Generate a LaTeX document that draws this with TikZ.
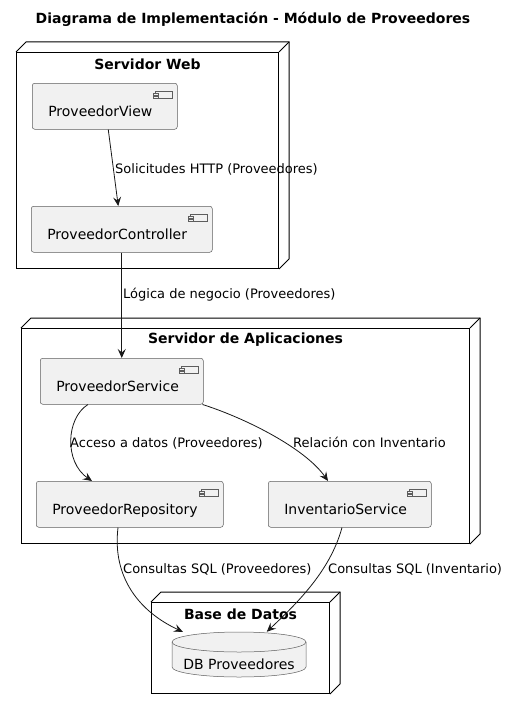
\documentclass[tikz,border=0pt]{standalone}
\usepackage{fontspec}
\setmainfont{DejaVu Sans}
\usetikzlibrary{arrows.meta}
\definecolor{compfill}{HTML}{F1F1F1}
\definecolor{compline}{HTML}{181818}

\tikzset{
	comp/.style={draw=compline!70, line width=0.5pt, fill=compfill, rounded corners=2.5pt,
		anchor=north west, inner xsep=16pt, inner ysep=0pt, align=left,
		minimum height=46pt, text height=21pt, text depth=1pt,
		font=\fontsize{14}{16}\selectfont,
		path picture={
			\draw[compline!70, line width=0.5pt, sharp corners] ([shift={(-22pt,-8pt)}]path picture bounding box.north east) rectangle ++(17pt,-7pt);
			\filldraw[draw=compline!70, fill=compfill, line width=0.5pt, sharp corners] ([shift={(-24pt,-9.5pt)}]path picture bounding box.north east) rectangle ++(4.5pt,-2pt);
			\filldraw[draw=compline!70, fill=compfill, line width=0.5pt, sharp corners] ([shift={(-24pt,-12.5pt)}]path picture bounding box.north east) rectangle ++(4.5pt,-2pt);
		}},
	box3d/.style={draw, line width=1pt, anchor=north west, inner sep=0pt},
	ttl/.style={font=\bfseries\fontsize{14}{16}\selectfont},
	lbl/.style={font=\fontsize{13}{15}\selectfont, anchor=base west, inner sep=0pt},
	link/.style={-{Stealth[length=9pt,width=8pt,inset=3.5pt]}, line width=0.8pt, draw=compline},
}
\newcommand{\nodeback}[1]{\draw[line width=1pt] (#1.north west) -- ++(10,-10) -| ([shift={(10pt,10pt)}]#1.south east) -- (#1.south east); \draw[line width=1pt] (#1.north east) -- ++(10,-10);}

\begin{document}
\begin{tikzpicture}[x=1pt, y=-1pt]
	\useasboundingbox (0,0) rectangle (507,709);
	\node[ttl, anchor=base] (title) at (253,24) {Diagrama de Implementación - Módulo de Proveedores};

	\node[box3d, minimum width=262, minimum height=216] (web) at (16,52) {};
	\nodeback{web}
	\node[ttl] (webt) at ([yshift=-12pt]web.north) {Servidor Web};
	\node[comp, text width=113pt] (pv) at (32,83) {ProveedorView};
	\node[comp, text width=149pt] (pc) at (31,206) {ProveedorController};

	\node[box3d, minimum width=448, minimum height=215] (app) at (21,328) {};
	\nodeback{app}
	\node[ttl] (appt) at ([yshift=-12pt]app.north) {Servidor de Aplicaciones};
	\node[comp, text width=131pt] (ps) at (40,358) {ProveedorService};
	\node[comp, text width=155pt] (pr) at (36,481) {ProveedorRepository};
	\node[comp, text width=131pt] (is) at (268,481) {InventarioService};

	\node[box3d, minimum width=178, minimum height=91] (dbn) at (151,602) {};
	\nodeback{dbn}
	\node[ttl] (dbt) at ([yshift=-12pt]dbn.north) {Base de Datos};
	\node[minimum width=136, minimum height=47, inner sep=0pt, text height=30pt, text depth=1pt,
		font=\fontsize{14}{16}\selectfont,
		path picture={
			\filldraw[draw=compline!70, fill=compfill, line width=0.5pt] ([shift={(1pt,-11pt)}]path picture bounding box.north west) -- ++(0pt,-25pt) arc[start angle=180, end angle=360, x radius=67pt, y radius=10pt] -- ++(0pt,25pt) arc[start angle=0, end angle=180, x radius=67pt, y radius=10pt] -- cycle;
			\draw[compline!70, line width=0.5pt] ([shift={(1pt,-11pt)}]path picture bounding box.north west) arc[start angle=180, end angle=360, x radius=67pt, y radius=10pt];
		}] (dbs) at (239,654.5) {DB Proveedores};

	\draw[link] ([xshift=3.5pt]pv.south) -- ([xshift=-3.5pt]pc.north);
	\draw[link] (pc.south) -- (ps.north);
	\draw[link] ([xshift=48pt]ps.south west) .. controls (66,418) and (64,462) .. ([xshift=56pt]pr.north west);
	\draw[link] ([xshift=-1pt]ps.south east) .. controls (245,418) and (305,448) .. ([xshift=60pt]is.north west);
	\draw[link] ([xshift=82pt]pr.south west) .. controls (112,578) and (140,612) .. ([shift={(12pt,-1pt)}]dbs.north west);
	\draw[link] ([xshift=74pt]is.south west) .. controls (330,572) and (295,605) .. ([shift={(96pt,-1pt)}]dbs.north west);

	\node[lbl] (l1) at (115,173) {Solicitudes HTTP (Proveedores)};
	\node[lbl] (l2) at (123,298) {Lógica de negocio (Proveedores)};
	\node[lbl] (l3) at (70,447) {Acceso a datos (Proveedores)};
	\node[lbl] (l4) at (293,447) {Relación con Inventario};
	\node[lbl] (l5) at (123,573) {Consultas SQL (Proveedores)};
	\node[lbl] (l6) at (328,573) {Consultas SQL (Inventario)};
\end{tikzpicture}
\end{document}
